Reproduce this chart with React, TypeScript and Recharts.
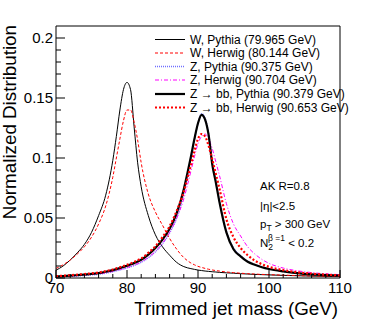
import React from "react"
import { LineChart, Line, XAxis, YAxis, ReferenceLine } from "recharts"

const FONT = "'Liberation Sans', Arial, Helvetica, sans-serif"

// jet mass bin positions (GeV)
const mass = [
  70, 71, 72, 73, 74, 75, 76, 77, 78, 78.5, 79, 79.5, 80, 80.5, 81, 81.5, 82, 83, 84, 85, 86, 87, 88,
  88.5, 89, 89.5, 90, 90.5, 91, 91.5, 92, 92.5, 93, 94, 95, 96, 97, 98, 99, 100, 102, 104, 106, 108, 110,
]

const wPythia = [
  0.0065, 0.01, 0.015, 0.021, 0.028, 0.038, 0.052, 0.069, 0.098, 0.118, 0.14, 0.157, 0.163, 0.157, 0.126,
  0.096, 0.076, 0.052, 0.036, 0.026, 0.019, 0.013, 0.0095, 0.0085, 0.0078, 0.0072, 0.0066, 0.0062, 0.0058,
  0.0055, 0.0052, 0.005, 0.0047, 0.0043, 0.004, 0.0036, 0.0033, 0.003, 0.0028, 0.0026, 0.0022, 0.0019,
  0.0016, 0.0014, 0.0012,
]

const wHerwig = [
  0.008, 0.011, 0.015, 0.02, 0.026, 0.034, 0.045, 0.06, 0.084, 0.1, 0.116, 0.131, 0.14, 0.14, 0.13, 0.115,
  0.096, 0.07, 0.055, 0.044, 0.033, 0.024, 0.017, 0.0145, 0.0125, 0.011, 0.0097, 0.0088, 0.008, 0.0073,
  0.0067, 0.0062, 0.0058, 0.005, 0.0045, 0.004, 0.0036, 0.0033, 0.003, 0.0028, 0.0024, 0.002, 0.0017,
  0.0015, 0.0013,
]

const zPythia = [
  0.0008, 0.001, 0.0013, 0.0017, 0.0021, 0.0026, 0.0031, 0.004, 0.0052, 0.0059, 0.0067, 0.0075, 0.0084,
  0.0093, 0.0104, 0.0116, 0.013, 0.0168, 0.0218, 0.0285, 0.0375, 0.05, 0.07, 0.084, 0.099, 0.115, 0.129,
  0.137, 0.133, 0.12, 0.097, 0.081, 0.065, 0.039, 0.025, 0.0185, 0.014, 0.0112, 0.0092, 0.0077, 0.0056,
  0.0041, 0.003, 0.0024, 0.0019,
]

const zHerwig = [
  0.001, 0.0013, 0.0016, 0.002, 0.0024, 0.0029, 0.0035, 0.0043, 0.0055, 0.0062, 0.007, 0.0078, 0.0087,
  0.0097, 0.0108, 0.012, 0.0134, 0.0172, 0.0222, 0.029, 0.038, 0.05, 0.066, 0.077, 0.089, 0.101, 0.112,
  0.118, 0.12, 0.116, 0.108, 0.097, 0.086, 0.062, 0.045, 0.035, 0.026, 0.02, 0.0155, 0.0122, 0.0083, 0.006,
  0.0045, 0.0035, 0.0028,
]

const zbbPythia = [
  0.0012, 0.0015, 0.0019, 0.0024, 0.0029, 0.0034, 0.004, 0.0052, 0.0066, 0.0074, 0.0083, 0.0092, 0.0102,
  0.0112, 0.0124, 0.0137, 0.0152, 0.0195, 0.025, 0.032, 0.041, 0.054, 0.074, 0.087, 0.101, 0.116, 0.129,
  0.136, 0.132, 0.119, 0.095, 0.08, 0.064, 0.038, 0.024, 0.018, 0.0135, 0.011, 0.009, 0.0075, 0.0055,
  0.004, 0.003, 0.0024, 0.002,
]

const zbbHerwig = [
  0.0015, 0.0019, 0.0023, 0.0028, 0.0033, 0.0039, 0.0046, 0.0057, 0.0071, 0.008, 0.0089, 0.0099, 0.011,
  0.0121, 0.0134, 0.0148, 0.0163, 0.021, 0.0265, 0.034, 0.043, 0.056, 0.072, 0.083, 0.094, 0.106, 0.116,
  0.12, 0.118, 0.11, 0.099, 0.087, 0.075, 0.049, 0.034, 0.025, 0.019, 0.0145, 0.0115, 0.0093, 0.0066,
  0.0048, 0.0036, 0.0028, 0.0022,
]

const xTicks = [70, 72, 74, 76, 78, 80, 82, 84, 86, 88, 90, 92, 94, 96, 98, 100, 102, 104, 106, 108, 110]
const yTicks = [
  0, 0.01, 0.02, 0.03, 0.04, 0.05, 0.06, 0.07, 0.08, 0.09, 0.1, 0.11, 0.12, 0.13, 0.14, 0.15, 0.16, 0.17,
  0.18, 0.19, 0.2,
]

const series = [
  { key: "wPy", label: "W, Pythia (79.965 GeV)", color: "#000000", width: 1, dash: undefined },
  { key: "wHw", label: "W, Herwig (80.144 GeV)", color: "#ff0000", width: 1, dash: "3 2" },
  { key: "zPy", label: "Z, Pythia (90.375 GeV)", color: "#6f6fff", width: 1.4, dash: "1 1" },
  { key: "zHw", label: "Z, Herwig (90.704 GeV)", color: "#ff00ff", width: 1, dash: "4 2 1 2" },
  { key: "zbbPy", label: "Z \u2192 bb, Pythia (90.379 GeV)", color: "#000000", width: 2.2, dash: undefined },
  { key: "zbbHw", label: "Z \u2192 bb, Herwig (90.653 GeV)", color: "#ff0000", width: 2.2, dash: "2 2" },
]

const data = mass.map((m, i) => ({
  m,
  wPy: wPythia[i],
  wHw: wHerwig[i],
  zPy: zPythia[i],
  zHw: zHerwig[i],
  zbbPy: zbbPythia[i],
  zbbHw: zbbHerwig[i],
}))

function XTick(props: any) {
  const { x, y, payload } = props
  const v = payload.value
  const major = v % 10 === 0
  return (
    <g>
      <line x1={x} x2={x} y1={y} y2={y - (major ? 8 : 4)} stroke="#000" strokeWidth={1} />
      {major && (
        <text x={x} y={y + 14.5} textAnchor="middle" fontSize={15} fontFamily={FONT} fill="#000">
          {v}
        </text>
      )}
    </g>
  )
}

function YTick(props: any) {
  const { x, y, payload } = props
  const v = payload.value
  const major = Math.abs(v * 20 - Math.round(v * 20)) < 1e-6
  return (
    <g>
      <line x1={x} x2={x + (major ? 9 : 5)} y1={y} y2={y} stroke="#000" strokeWidth={1} />
      {major && (
        <text x={x - 3} y={y + 4.8} textAnchor="end" fontSize={15} fontFamily={FONT} fill="#000">
          {String(v)}
        </text>
      )}
    </g>
  )
}

export default function App() {
  const rowY = [39.5, 53, 66.5, 80, 94, 107.5]
  return (
    <div style={{ position: "absolute", left: 0, top: 0, width: 374, height: 328, background: "#fff" }}>
      <LineChart width={374} height={328} data={data} margin={{ top: 26, right: 34, left: 0, bottom: 0 }}>
        <XAxis
          dataKey="m"
          type="number"
          domain={[70, 110]}
          ticks={xTicks}
          interval={0}
          height={50}
          tickSize={0}
          tickMargin={0}
          tickLine={false}
          axisLine={{ stroke: "#000" }}
          tick={<XTick />}
        />
        <YAxis
          type="number"
          domain={[0, 0.21]}
          ticks={yTicks}
          interval={0}
          width={56}
          tickSize={0}
          tickMargin={0}
          tickLine={false}
          axisLine={{ stroke: "#000" }}
          tick={<YTick />}
        />
        <ReferenceLine y={0.21} stroke="#000" />
        <ReferenceLine x={110} stroke="#000" />
        {series.map((s) => (
          <Line
            key={s.key}
            dataKey={s.key}
            type="monotone"
            stroke={s.color}
            strokeWidth={s.width}
            strokeDasharray={s.dash}
            dot={false}
            activeDot={false}
            isAnimationActive={false}
          />
        ))}
      </LineChart>
      <svg
        width={374}
        height={328}
        style={{ position: "absolute", left: 0, top: 0, pointerEvents: "none" }}
        fontFamily={FONT}
      >
        {series.map((s, i) => (
          <g key={s.key}>
            <line
              x1={155}
              x2={185}
              y1={rowY[i]}
              y2={rowY[i]}
              stroke={s.color}
              strokeWidth={s.width}
              strokeDasharray={s.dash}
            />
            <text x={190} y={rowY[i] + 4} fontSize={12} fill="#000">
              {s.label}
            </text>
          </g>
        ))}
        <g fontSize={11.5} fill="#000">
          <text x={260} y={190}>AK R=0.8</text>
          <text x={260} y={209.5}>|η|&lt;2.5</text>
          <text x={260} y={227.5}>
            p<tspan fontSize={8.5} dy={3}>T</tspan>
            <tspan dy={-3}> &gt; 300 GeV</tspan>
          </text>
          <text x={260} y={247}>
            N<tspan fontSize={8.5} dy={3}>2</tspan>
            <tspan fontSize={8.5} dx={-5} dy={-9}>β =1</tspan>
            <tspan dy={6}>  &lt; 0.2</tspan>
          </text>
        </g>
        <text x={338} y={315} textAnchor="end" fontSize={18.8} fill="#000">
          Trimmed jet mass (GeV)
        </text>
        <text transform="translate(16,25) rotate(-90)" textAnchor="end" fontSize={18.8} fill="#000">
          Normalized Distribution
        </text>
      </svg>
    </div>
  )
}
